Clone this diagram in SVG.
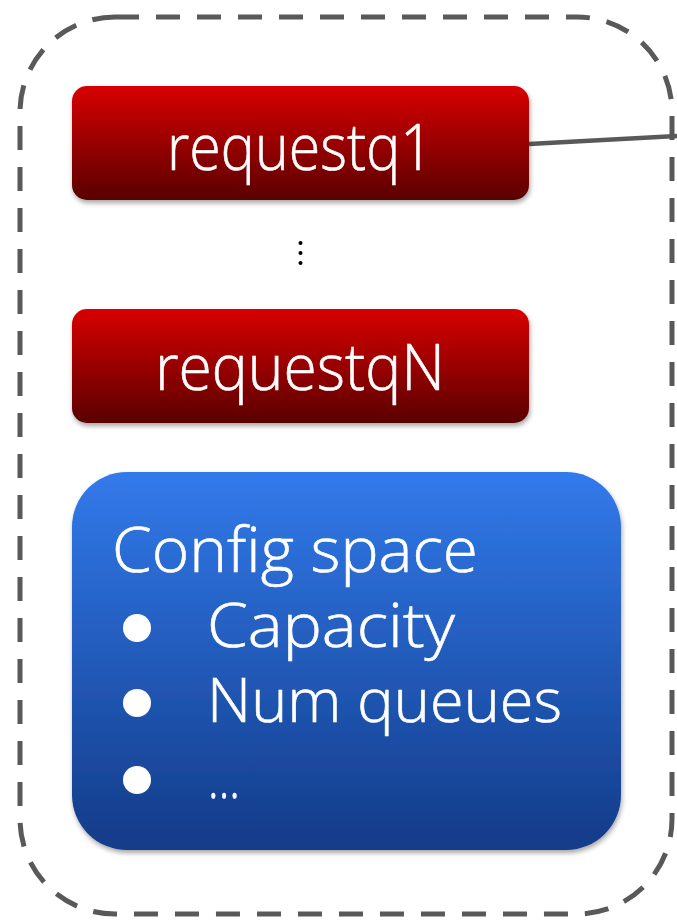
<svg xmlns="http://www.w3.org/2000/svg" width="677" height="920" viewBox="0 0 677 920">
<defs>
<linearGradient id="red" x1="0" y1="0" x2="0" y2="1">
<stop offset="0" stop-color="#d80000"/>
<stop offset="1" stop-color="#5a0000"/>
</linearGradient>
<linearGradient id="blue" x1="0" y1="0" x2="0" y2="1">
<stop offset="0" stop-color="#327aeb"/>
<stop offset="1" stop-color="#133b88"/>
</linearGradient>
<filter id="sh" x="-10%" y="-10%" width="120%" height="130%">
<feDropShadow dx="1" dy="3" stdDeviation="2.5" flood-color="#000" flood-opacity="0.35"/>
</filter>
</defs>
<style>
.t{font-family:"Open Sans","Liberation Sans",sans-serif;font-weight:300;fill:#fff;stroke:#fff;stroke-width:0.6;}
.border{fill:none;stroke:#595959;stroke-width:5;stroke-dasharray:24 17;}
.conn{fill:none;stroke:#595959;stroke-width:4.5;}
</style>
<g id="container">
<rect class="border" x="20" y="17" width="652" height="897" rx="95" ry="95"/>
</g>
<g id="connectors">
<line class="conn" x1="529" y1="144" x2="677" y2="136"/>
</g>
<g id="requestq1">
<rect x="72" y="86" width="457" height="114" rx="15" fill="url(#red)" filter="url(#sh)"/>
<text class="t" x="300" y="170" font-size="65" text-anchor="middle" textLength="266" lengthAdjust="spacingAndGlyphs">requestq1</text>
</g>
<g id="dots">
<circle cx="300.5" cy="243" r="2" fill="#000"/>
<circle cx="300.5" cy="253" r="2" fill="#000"/>
<circle cx="300.5" cy="263" r="2" fill="#000"/>
</g>
<g id="requestqN">
<rect x="72" y="309" width="457" height="114" rx="15" fill="url(#red)" filter="url(#sh)"/>
<text class="t" x="300" y="390" font-size="65" text-anchor="middle" textLength="290" lengthAdjust="spacingAndGlyphs">requestqN</text>
</g>
<g id="config">
<rect x="72" y="472" width="549" height="378" rx="55" ry="55" fill="url(#blue)" filter="url(#sh)"/>
<text class="t" x="112" y="572" font-size="63" textLength="366" lengthAdjust="spacingAndGlyphs">Config space</text>
<circle cx="137" cy="628" r="14" fill="#fff"/>
<circle cx="137" cy="703" r="14" fill="#fff"/>
<circle cx="137" cy="780" r="14" fill="#fff"/>
<text class="t" x="207" y="647" font-size="60" textLength="248" lengthAdjust="spacingAndGlyphs">Capacity</text>
<text class="t" x="207" y="722" font-size="60" textLength="355" lengthAdjust="spacingAndGlyphs">Num queues</text>
<text class="t" x="208" y="798" font-size="60" textLength="32" lengthAdjust="spacingAndGlyphs">...</text>
</g>
</svg>
